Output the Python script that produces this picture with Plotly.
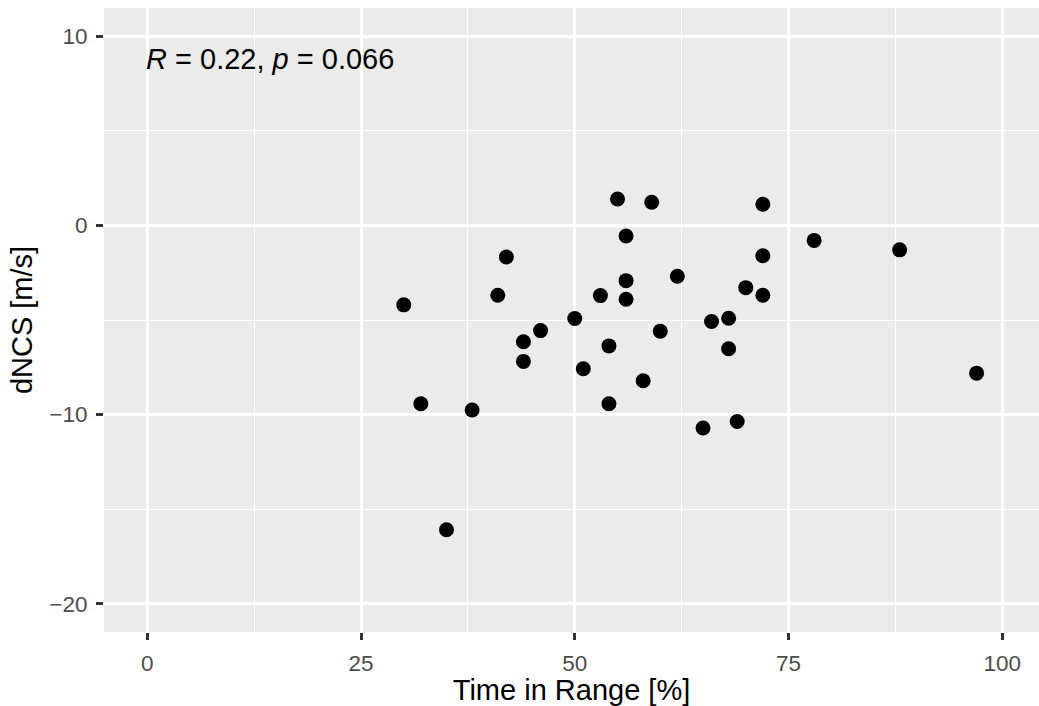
import plotly.graph_objects as go

time_in_range = [30, 32, 35, 38, 41, 42, 44, 44, 46, 50, 51, 53, 54, 54, 55, 56, 56, 56,
                 58, 59, 60, 62, 65, 66, 68, 68, 69, 70, 72, 72, 72, 78, 88, 97]
dncs = [-4.20, -9.43, -16.09, -9.76, -3.69, -1.67, -6.15, -7.19, -5.56, -4.92, -7.58,
        -3.71, -6.37, -9.43, 1.40, -0.56, -2.92, -3.90, -8.21, 1.23, -5.59, -2.69,
        -10.71, -5.08, -4.91, -6.52, -10.37, -3.29, 1.12, -1.60, -3.69, -0.79, -1.29, -7.81]
x_ticks = [0, 25, 50, 75, 100]
y_ticks = [-20, -10, 0, 10]
label_text = "<i>R</i> = 0.22, <i>p</i> = 0.066"

FONT = "Liberation Sans, Arial, Helvetica, sans-serif"

fig = go.Figure()
fig.add_trace(go.Scatter(
    x=time_in_range, y=dncs, mode="markers",
    marker=dict(color="black", size=15, line=dict(width=0)),
    showlegend=False, hoverinfo="x+y",
))

axis_common = dict(
    showgrid=True, gridcolor="white", gridwidth=2.7,
    zeroline=False, showline=False,
    ticks="outside", ticklen=7, tickwidth=2.7, tickcolor="#333333",
    tickfont=dict(family=FONT, size=22.5, color="#4D4D4D"),
)

fig.update_xaxes(
    range=[-5.06, 104.3], tickvals=x_ticks, ticktext=[str(v) for v in x_ticks],
    minor=dict(dtick=12.5, tick0=0, showgrid=True, gridcolor="white", gridwidth=1.35, ticks=""),
    title=dict(text="Time in Range [%]", font=dict(family=FONT, size=29, color="black"), standoff=11),
    ticklabelstandoff=4,
    **axis_common,
)
fig.update_yaxes(
    range=[-21.5, 11.5], tickvals=y_ticks, ticktext=["\u221220", "\u221210", "0", "10"],
    minor=dict(dtick=5, tick0=0, showgrid=True, gridcolor="white", gridwidth=1.35, ticks=""),
    title=dict(text="dNCS [m/s]", font=dict(family=FONT, size=29, color="black"), standoff=8),
    ticklabelstandoff=4,
    **axis_common,
)

fig.add_annotation(
    x=0, y=8.8, xref="x", yref="y", text=label_text, showarrow=False,
    xanchor="left", yanchor="middle", xshift=-3,
    font=dict(family=FONT, size=29, color="black"),
)

fig.update_layout(
    width=1039, height=706,
    margin=dict(l=104, r=0, t=8, b=74, pad=0),
    paper_bgcolor="white", plot_bgcolor="#EBEBEB",
    font=dict(family=FONT),
)

fig.write_html(
    "out.html",
    config={"displayModeBar": False},
    post_script="document.body.style.margin='0';document.body.style.overflow='hidden';",
)
